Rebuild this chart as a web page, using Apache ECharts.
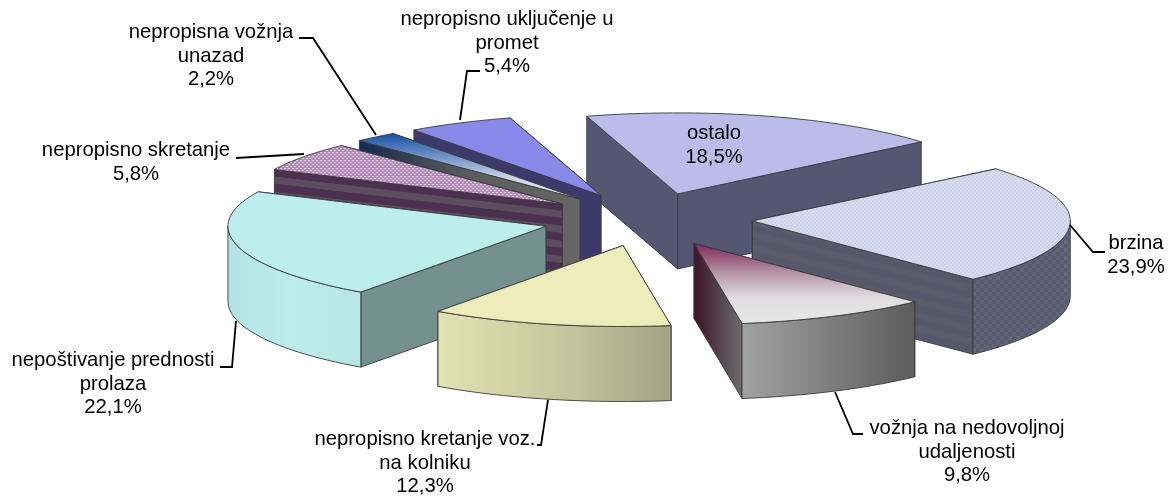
<!DOCTYPE html>
<html>
<head>
<meta charset="utf-8">
<title>Pie</title>
<script src="https://cdn.jsdelivr.net/npm/echarts@6/dist/echarts.min.js"></script>
<style>
  html, body { margin: 0; padding: 0; background: #fff; }
  #chart { width: 1170px; height: 497px; }
</style>
</head>
<body>
<div id="chart"></div>
<script>
// pie order, clockwise from the start angle
const categories = [
  "brzina",
  "vožnja na nedovoljnoj\nudaljenosti",
  "nepropisno kretanje voz.\nna kolniku",
  "nepoštivanje prednosti\nprolaza",
  "nepropisno skretanje",
  "nepropisna vožnja\nunazad",
  "nepropisno uključenje u\npromet",
  "ostalo",
];
const shares = [23.9, 9.8, 12.3, 22.1, 5.8, 2.2, 5.4, 18.5];

// layout of the fake 3d pie
const CX = 647.5, CY = 219.5, RX = 318, RY = 81, DEPTH = 75, EXPLODE = 0.33;
const START_ANGLE = -40;
const DRAW_ORDER = [7, 0, 6, 5, 4, 3, 1, 2]; // back to front

const LinearGradient = echarts.graphic.LinearGradient;
const hGrad = (stops) => new LinearGradient(0, 0, 1, 0, stops.map((c, i) => ({ offset: i / (stops.length - 1), color: c })));
const vGrad = (stops) => new LinearGradient(0, 0, 0, 1, stops.map((c, i) => ({ offset: i / (stops.length - 1), color: c })));

const makeTile = (w, h, draw, rotation) => {
  const c = document.createElement("canvas");
  c.width = w;
  c.height = h;
  draw(c.getContext("2d"));
  return { image: c, repeat: "repeat", rotation: rotation || 0 };
};
const checker = (size, a, b) => makeTile(size * 2, size * 2, (g) => {
  g.fillStyle = a;
  g.fillRect(0, 0, size * 2, size * 2);
  g.fillStyle = b;
  g.fillRect(0, 0, size, size);
  g.fillRect(size, size, size, size);
});
const stripes = (rows, rotation) => makeTile(4, rows.reduce((s, r) => s + r[0], 0), (g) => {
  let y = 0;
  rows.forEach((r) => {
    g.fillStyle = r[1];
    g.fillRect(0, y, 4, r[0]);
    y += r[0];
  });
}, rotation);
const dots = makeTile(4, 4, (g) => {
  g.fillStyle = "#b48cbc";
  g.fillRect(0, 0, 4, 4);
  g.fillStyle = "#e2d2e4";
  g.fillRect(0, 0, 2, 1);
  g.fillRect(2, 2, 2, 1);
});

// one entry per category: top face, flat walls, curved wall
const looks = [
  { top: checker(2, "#dadcf1", "#cdd0ea"), side: stripes([[7, "#56576a"], [6, "#5b5c6a"]], 0.24), rim: checker(4, "#585a6e", "#63667a") },
  { top: vGrad(["#7c2458", "#b08a9f", "#e0dde0", "#e8e8e8"]), side: hGrad(["#3a1229", "#6e6e6e"]), rim: hGrad(["#a2a2a2", "#5c5c5c"]) },
  { top: "#edecba", side: "#a3a283", rim: hGrad(["#e3e2b4", "#c9c9a0", "#a3a385"]) },
  { top: "#bdeeee", side: "#74908f", rim: hGrad(["#b5e2e3", "#bdecec", "#b5e5e5"]) },
  { top: dots, side: stripes([[8, "#4b3050"], [7, "#5c4e5e"]], 0.118), rim: "#5f5060" },
  { top: vGrad(["#1652a8", "#6c8ec4", "#c9d2e6", "#f0f0f4"]), side: hGrad(["#16294d", "#5c5c5c", "#666666"]), rim: "#666666" },
  { top: "#8989ea", side: "#3d3a6b", rim: "#3d3a6b" },
  { top: "#bcbceb", side: "#555671", rim: "#555671" },
];

// label boxes and leader lines
const labelSpots = [
  { x: 1136, y: 232, line: [[1070, 225], [1093, 252], [1105, 252]] },
  { x: 967, y: 417, line: [[835, 392], [853, 434], [863, 434]] },
  { x: 425, y: 428, line: [[548, 400], [541, 445], [537, 445]] },
  { x: 113, y: 349, line: [[236, 321], [232, 367], [220, 367]] },
  { x: 136, y: 139, line: [[304, 154], [236, 158]] },
  { x: 211, y: 21, line: [[376, 135], [313, 38], [299, 38]] },
  { x: 507, y: 8, line: [[460, 120], [467, 71], [480, 71]] },
  { x: 714, y: 122, line: null },
];

const total = shares.reduce((s, v) => s + v, 0);
const sliceAngles = shares.map((v, i) => {
  const before = shares.slice(0, i).reduce((s, x) => s + x, 0);
  return [START_ANGLE + (before / total) * 360, START_ANGLE + ((before + v) / total) * 360];
});

const rad = (d) => (d * Math.PI) / 180;
const rim = (apex, a) => [apex[0] + RX * Math.cos(rad(a)), apex[1] + RY * Math.sin(rad(a))];
const arcPoints = (apex, a0, a1) => {
  const pts = [];
  const n = Math.max(2, Math.ceil((a1 - a0) / 2));
  for (let i = 0; i <= n; i++) pts.push(rim(apex, a0 + ((a1 - a0) * i) / n));
  return pts;
};
const down = (p) => [p[0], p[1] + DEPTH];

const edge = { stroke: "#3a3a3a", lineWidth: 0.9, lineJoin: "round" };
const polygon = (points, fill) => ({
  type: "polygon",
  shape: { points: points },
  style: Object.assign({ fill: fill }, edge),
});

const renderSlice = (params, api) => {
  const idx = api.value(0);
  const [a0, a1] = sliceAngles[idx];
  const mid = rad((a0 + a1) / 2);
  const apex = [CX + EXPLODE * RX * Math.cos(mid), CY + EXPLODE * RY * Math.sin(mid)];
  const look = looks[idx];
  const children = [];

  // flat walls, the one further back first
  [a0, a1]
    .sort((p, q) => Math.sin(rad(p)) - Math.sin(rad(q)))
    .forEach((a) => {
      const end = rim(apex, a);
      children.push(polygon([apex, end, down(end), down(apex)], look.side));
    });

  // curved wall, only where the rim faces the viewer
  [[0, 180], [360, 540]].forEach(([lo, hi]) => {
    const from = Math.max(a0, lo), to = Math.min(a1, hi);
    if (to > from) {
      const arc = arcPoints(apex, from, to);
      children.push(polygon(arc.concat(arc.map(down).reverse()), look.rim));
    }
  });

  children.push(polygon([apex].concat(arcPoints(apex, a0, a1)), look.top));
  return { type: "group", children: children };
};

const renderLabel = (params, api) => {
  const idx = api.value(0);
  const spot = labelSpots[idx];
  const text = categories[idx] + "\n" + String(shares[idx]).replace(".", ",") + "%";
  const children = [{
    type: "text",
    style: {
      x: spot.x, y: spot.y, text: text, fill: "#000",
      fontFamily: "Liberation Sans", fontSize: 20.3, lineHeight: 23.5,
      align: "center", verticalAlign: "top",
    },
  }];
  if (spot.line) {
    children.push({
      type: "polyline",
      shape: { points: spot.line },
      style: { stroke: "#000", lineWidth: 1.8, fill: null },
    });
  }
  return { type: "group", children: children };
};

const myChart = echarts.init(document.getElementById("chart"), null, { renderer: "canvas" });
myChart.setOption({
  animation: false,
  backgroundColor: "#fff",
  series: [
    {
      type: "custom",
      coordinateSystem: "none",
      renderItem: renderSlice,
      silent: true,
      z: 1,
      data: DRAW_ORDER.map((i) => [i, shares[i]]),
    },
    {
      type: "custom",
      coordinateSystem: "none",
      renderItem: renderLabel,
      silent: true,
      z: 2,
      data: categories.map((c, i) => [i, shares[i]]),
    },
  ],
});
</script>
</body>
</html>
